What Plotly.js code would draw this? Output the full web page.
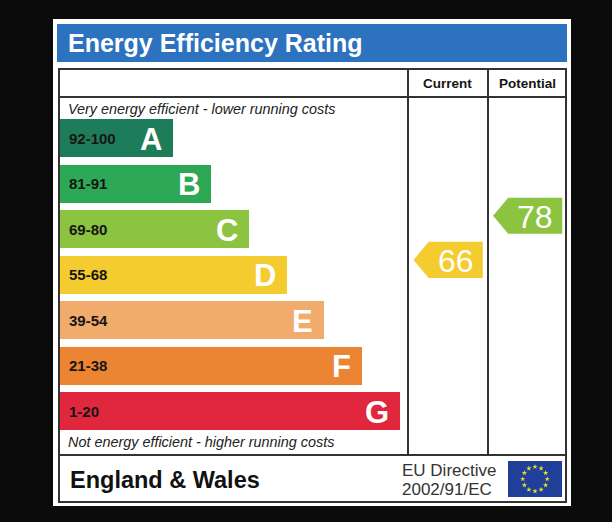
<!DOCTYPE html>
<html>
<head>
<meta charset="utf-8">
<script src="https://cdn.plot.ly/plotly-3.0.1.min.js"></script>
<style>
  html, body { margin: 0; padding: 0; background: #0b0b0b; }
  #chart { width: 612px; height: 522px; }
</style>
</head>
<body>
<div id="chart"></div>
<script>
// rating bands, top (best) to bottom (worst)
const bands = ['A', 'B', 'C', 'D', 'E', 'F', 'G'];
const bandRanges = ['92-100', '81-91', '69-80', '55-68', '39-54', '21-38', '1-20'];
const bandLow = [92, 81, 69, 55, 39, 21, 1];
const bandHigh = [100, 91, 80, 68, 54, 38, 20];
const barLengths = [3, 4, 5, 6, 7, 8, 9];
const bandColors = ['#1d7d5a', '#2da855', '#8cc341', '#f4cc2f', '#f0ab6d', '#eb8433', '#e1273d'];

// current / potential ratings
const ratingColumns = ['Current', 'Potential'];
const ratingValues = [66, 78];

const W = 612, H = 522;
const FONT = '"Liberation Sans", Arial, sans-serif';

// pixel -> paper helpers (margins are zero)
function px(x) { return x / W; }
function py(y) { return 1 - y / H; }

function bandOf(v) {
    for (let i = 0; i < bands.length; i++) {
        if (v >= bandLow[i] && v <= bandHigh[i]) return i;
    }
    return bands.length - 1;
}

// position on the band axis (band centre = index), higher value sits higher in its band
function ratingPos(v) {
    let i = bandOf(v);
    let frac = (v - bandLow[i] + 0.5) / (bandHigh[i] - bandLow[i] + 1);
    return i + 0.5 - frac;
}

const bandIdx = bands.map((b, i) => i);

let traces = [];

// bars
traces.push({
    type: 'bar',
    orientation: 'h',
    x: barLengths,
    y: bandIdx,
    width: 0.835,
    marker: { color: bandColors, line: { width: 0 } },
    hoverinfo: 'none',
    xaxis: 'x',
    yaxis: 'y'
});

// arrows in current / potential columns
const arrowHalf = 0.396;
ratingValues.forEach(function(v, c) {
    let y = ratingPos(v);
    traces.push({
        type: 'scatter',
        mode: 'lines',
        x: [c + 0.07, c + 0.26, c + 0.94, c + 0.94, c + 0.26, c + 0.07],
        y: [y, y - arrowHalf, y - arrowHalf, y + arrowHalf, y + arrowHalf, y],
        fill: 'toself',
        fillcolor: bandColors[bandOf(v)],
        line: { width: 0, color: bandColors[bandOf(v)] },
        hoverinfo: 'none',
        xaxis: 'x2',
        yaxis: 'y'
    });
});

// EU flag stars
let starX = [], starY = [];
for (let k = 0; k < 12; k++) {
    let a = k * Math.PI / 6;
    starX.push(0.68 * Math.cos(a));
    starY.push(0.68 * Math.sin(a));
}
traces.push({
    type: 'scatter',
    mode: 'markers',
    x: starX,
    y: starY,
    marker: { symbol: 'star', size: 4, color: '#e8de2a' },
    hoverinfo: 'none',
    xaxis: 'x3',
    yaxis: 'y3'
});

let annotations = [];

// range labels and band letters
bands.forEach(function(b, i) {
    annotations.push({
        x: 0, y: i, xref: 'x', yref: 'y',
        text: bandRanges[i], showarrow: false,
        xanchor: 'left', yanchor: 'middle', xshift: 7,
        font: { family: FONT, size: 15, color: '#151515', weight: 'bold' }
    });
    annotations.push({
        x: barLengths[i], y: i, xref: 'x', yref: 'y',
        text: b, showarrow: false,
        xanchor: 'right', yanchor: 'middle', xshift: -9, yshift: -1,
        font: { family: FONT, size: 31, color: '#ffffff', weight: 'bold' }
    });
});

// arrow numbers
ratingValues.forEach(function(v, c) {
    annotations.push({
        x: c + 0.6, y: ratingPos(v), xref: 'x2', yref: 'y',
        text: String(v), showarrow: false,
        xanchor: 'center', yanchor: 'middle', yshift: -1,
        font: { family: FONT, size: 32, color: '#ffffff' }
    });
});

// column headers
ratingColumns.forEach(function(name, c) {
    annotations.push({
        x: c + 0.5, y: py(83), xref: 'x2', yref: 'paper',
        text: name, showarrow: false,
        xanchor: 'center', yanchor: 'middle',
        font: { family: FONT, size: 13.5, color: '#151515', weight: 'bold' }
    });
});

function paperText(text, x, y, size, opts) {
    opts = opts || {};
    annotations.push({
        x: px(x), y: py(y), xref: 'paper', yref: 'paper',
        text: text, showarrow: false,
        xanchor: opts.anchor || 'left', yanchor: 'middle',
        font: {
            family: FONT, size: size, color: opts.color || '#151515',
            weight: opts.weight || 'normal', style: opts.style || 'normal'
        }
    });
}

paperText('Energy Efficiency Rating', 66, 43, 25, { color: '#ffffff', weight: 'bold' });
paperText('Very energy efficient - lower running costs', 66, 109, 14.4, { style: 'italic', color: '#222' });
paperText('Not energy efficient - higher running costs', 66, 442, 14.4, { style: 'italic', color: '#222' });
paperText('England &amp; Wales', 68, 480, 23.5, { weight: 'bold', color: '#111' });
paperText('EU Directive', 400, 470, 17, { color: '#333' });
paperText('2002/91/EC', 400, 489, 17, { color: '#333' });

// frame, title bar and table lines
const lineCol = '#333333';
let shapes = [
    { type: 'rect', xref: 'paper', yref: 'paper', x0: px(53), x1: px(571), y0: py(19), y1: py(506),
      fillcolor: '#ffffff', line: { width: 0 }, layer: 'below' },
    { type: 'rect', xref: 'paper', yref: 'paper', x0: px(57), x1: px(567), y0: py(24), y1: py(62),
      fillcolor: '#2d72bf', line: { width: 0 }, layer: 'below' },
    { type: 'rect', xref: 'paper', yref: 'paper', x0: px(59), x1: px(566), y0: py(69), y1: py(502),
      line: { color: lineCol, width: 2 } },
    { type: 'line', xref: 'paper', yref: 'paper', x0: px(59), x1: px(566), y0: py(97), y1: py(97),
      line: { color: lineCol, width: 2 } },
    { type: 'line', xref: 'paper', yref: 'paper', x0: px(59), x1: px(566), y0: py(455), y1: py(455),
      line: { color: lineCol, width: 2 } },
    { type: 'line', xref: 'paper', yref: 'paper', x0: px(408), x1: px(408), y0: py(69), y1: py(455),
      line: { color: lineCol, width: 2 } },
    { type: 'line', xref: 'paper', yref: 'paper', x0: px(488), x1: px(488), y0: py(69), y1: py(455),
      line: { color: lineCol, width: 2 } },
    { type: 'rect', xref: 'paper', yref: 'paper', x0: px(508), x1: px(562), y0: py(461), y1: py(497),
      fillcolor: '#1f3f99', line: { width: 0 }, layer: 'below' }
];

const hidden = { visible: false, fixedrange: true, showgrid: false, zeroline: false };

// band axis: centre of A at y=138px, 45.5px per band
const bandTop = 97, bandBottom = 455, bandCentre0 = 138, bandStep = 45.5;

let layout = {
    width: W,
    height: H,
    margin: { l: 0, r: 0, t: 0, b: 0, pad: 0 },
    paper_bgcolor: '#0b0b0b',
    plot_bgcolor: 'rgba(0,0,0,0)',
    showlegend: false,
    bargap: 0,
    xaxis: Object.assign({}, hidden, {
        domain: [px(60), px(408)], range: [0, 348 / 37.75]
    }),
    yaxis: Object.assign({}, hidden, {
        domain: [py(bandBottom), py(bandTop)],
        range: [(bandBottom - bandCentre0) / bandStep, (bandTop - bandCentre0) / bandStep]
    }),
    xaxis2: Object.assign({}, hidden, {
        domain: [px(408), px(567)], range: [0, 2], anchor: 'y'
    }),
    xaxis3: Object.assign({}, hidden, {
        domain: [px(508), px(562)], range: [-1.5, 1.5], anchor: 'y3'
    }),
    yaxis3: Object.assign({}, hidden, {
        domain: [py(497), py(461)], range: [-1, 1], anchor: 'x3'
    }),
    shapes: shapes,
    annotations: annotations
};

Plotly.newPlot('chart', traces, layout, { displayModeBar: false, staticPlot: true });
</script>
</body>
</html>
